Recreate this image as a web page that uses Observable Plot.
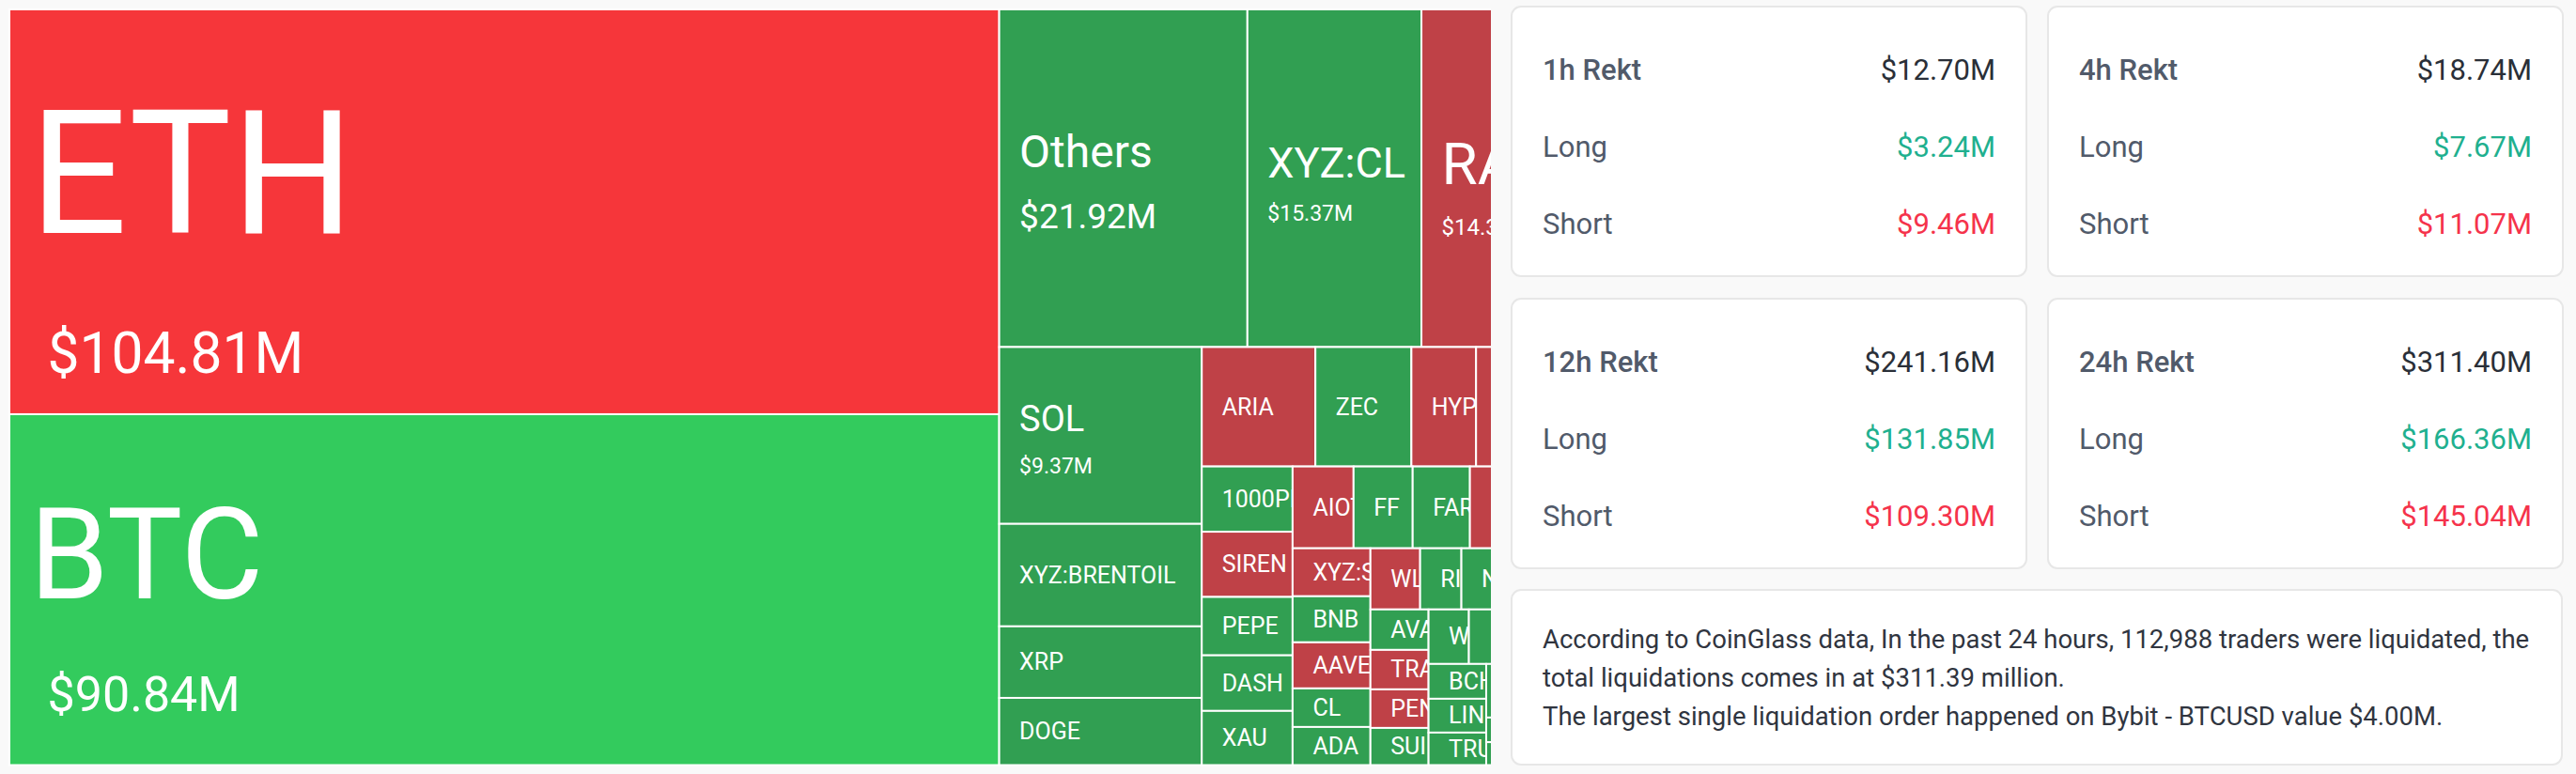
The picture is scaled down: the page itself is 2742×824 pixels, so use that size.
<!DOCTYPE html>
<html>
<head>
<meta charset="utf-8">
<script src="https://cdn.jsdelivr.net/npm/d3@7"></script>
<script src="https://cdn.jsdelivr.net/npm/@observablehq/plot@0.6"></script>
<style>
html,body{margin:0;padding:0;background:#f9f9f9;width:2742px;height:824px;overflow:hidden;font-family:Roboto,sans-serif}
#chart{position:absolute;left:0;top:0;width:1587px;height:824px;overflow:hidden}
#chart svg{background:transparent;display:block;max-width:none}
.card{position:absolute;box-sizing:border-box;background:#fff;border:2px solid #e7e7e7;border-radius:11px;padding:26px 32px 0 32px;width:550px;height:289px}
.row{display:flex;justify-content:space-between;line-height:82px;font-size:31px;color:#515a6a}
.row.head span:first-child{font-weight:500}
.row.head span:last-child{color:#2a2f38}
.long{color:#1fb08f}
.short{color:#f5334b}
.note{left:1608px;top:627px;width:1120px;height:188px;padding-top:31px;font-size:27.5px;line-height:41px;color:#30353f;white-space:nowrap}
</style>
</head>
<body>
<div id="chart"></div>
<div id="cards"></div>
<script>
const names = ["ETH","BTC","Others","XYZ:CL","RAVE","SOL","XYZ:BRENTOIL","XRP","DOGE","ARIA","ZEC","HYPE","","","1000PEPE","SIREN","PEPE","DASH","XAU","AIOT","FF","FARTCOIN","","","XYZ:SILVER","BNB","AAVE","CL","ADA","WLFI","RIVER","NEAR","","","AVAX","TRADOOR","PENGU","SUI","WIF","","","","BCH","LINK","TRUMP","","","","","",""];
const values = [104.81,90.84,21.92,15.37,14.35,9.37,5.43,3.79,3.56,3.55,3.0,2.02,1.8,1.57,1.55,1.55,1.387,1.32,1.287,1.305,1.265,1.225,1.22,1.22,.977,.938,.938,.785,.776,.795,.66,.66,.66,.64,.615,.60,.586,.565,.575,.57,.55,.52,.525,.51,.49,.46,.46,.45,.22,.205,.79];
const tones = ["shortMajor","longMajor","long","long","short","long","long","long","long","short","long","short","short","short","long","short","long","long","long","short","long","long","short","short","short","long","short","long","long","short","long","long","long","long","long","short","short","long","long","long","long","long","long","long","long","long","long","long","long","long","long"];
const stripSizes = [2,3,4,5,5,5,5,5,4,4,3,3,2,1];

const toneDomain = ["shortMajor","longMajor","short","long"];
const toneColors = ["#f6363a","#33cb5d","#bf4147","#319f52"];

const labelStyles = {
  ETH:{size:183,base:237,valueSize:60.5,valueBase:386,valueDx:40},
  BTC:{size:135,base:196,valueSize:52,valueBase:315.5,valueDx:40},
  Others:{size:48,base:167,valueSize:37,valueBase:232,valueDx:21},
  "XYZ:CL":{size:45,base:178,valueSize:23,valueBase:224,valueDx:21},
  RAVE:{size:62,base:185,valueSize:24,valueBase:239,valueDx:21},
  SOL:{size:38,base:89,valueSize:23,valueBase:134,valueDx:21}
};

const panelTitles = ["1h Rekt","4h Rekt","12h Rekt","24h Rekt"];
const panelTotals = ["$12.70M","$18.74M","$241.16M","$311.40M"];
const panelLongs = ["$3.24M","$7.67M","$131.85M","$166.36M"];
const panelShorts = ["$9.46M","$11.07M","$109.30M","$145.04M"];
const noteLines = [
  "According to CoinGlass data, In the past 24 hours, 112,988 traders were liquidated, the",
  "total liquidations comes in at $311.39 million.",
  "The largest single liquidation order happened on Bybit - BTCUSD value $4.00M."
];

// Squarified-style tiling with the strips.
function stripTile(parent, x0, y0, x1, y1) {
  let rest = parent.value, i = 0;
  for (const n of stripSizes) {
    const row = {children: parent.children.slice(i, i + n)};
    row.value = d3.sum(row.children, d => d.value);
    i += n;
    const dx = x1 - x0, dy = y1 - y0;
    if (i === n || dx >= dy) {
      const nx = x0 + dx * row.value / rest;
      d3.treemapSlice(row, x0, y0, nx, y1); x0 = nx;
    } else {
      const ny = y0 + dy * row.value / rest;
      d3.treemapDice(row, x0, y0, x1, ny); y0 = ny;
    }
    rest -= row.value;
  }
}

const leaves = names.map((name, i) => ({name, value: values[i], tone: tones[i]}));
const root = d3.hierarchy({children: leaves}).sum(d => d.value || 0);
d3.treemap().tile(stripTile).size([1676, 804.5]).round(false)(root);
const cells = root.leaves().map(n => ({...n.data, x1: n.x0 + 10, x2: n.x1 + 10, y1: n.y0 + 10, y2: n.y1 + 10}));

const money = v => `$${v.toFixed(2)}M`;

const marks = cells.flatMap(c => {
  const s = labelStyles[c.name];
  const out = [Plot.rect([c], {x1: "x1", x2: "x2", y1: "y1", y2: "y2", fill: "tone", stroke: "#fff", strokeWidth: 2})];
  if (c.name) {
    out.push(Plot.text([c], {
      x: d => d.x1 + 21,
      y: d => s ? d.y1 + s.base : (d.y1 + d.y2) / 2 + 8,
      text: "name", textAnchor: "start", lineAnchor: "bottom",
      fill: "#fff", fontSize: s ? s.size : 25, fontFamily: "Roboto"
    }));
  }
  if (s) {
    out.push(Plot.text([c], {
      x: d => d.x1 + s.valueDx,
      y: d => d.y1 + s.valueBase,
      text: d => money(d.value), textAnchor: "start", lineAnchor: "bottom",
      fill: "#fff", fontSize: s.valueSize, fontFamily: "Roboto"
    }));
  }
  return out;
});

const plot = Plot.plot({
  width: 1587, height: 824,
  marginTop: 0, marginRight: 0, marginBottom: 0, marginLeft: 0,
  x: {domain: [0, 1587], range: [0, 1587], axis: null},
  y: {domain: [0, 824], range: [0, 824], axis: null},
  color: {type: "ordinal", domain: toneDomain, range: toneColors},
  marks
});
document.getElementById("chart").append(plot);

const cardsEl = document.getElementById("cards");
const lefts = [1608, 2179, 1608, 2179], tops = [6, 6, 317, 317];
panelTitles.forEach((t, i) => {
  const card = document.createElement("div");
  card.className = "card";
  card.style.left = lefts[i] + "px";
  card.style.top = tops[i] + "px";
  card.innerHTML = `<div class="row head"><span>${t}</span><span>${panelTotals[i]}</span></div>
    <div class="row"><span>Long</span><span class="long">${panelLongs[i]}</span></div>
    <div class="row"><span>Short</span><span class="short">${panelShorts[i]}</span></div>`;
  cardsEl.append(card);
});
const note = document.createElement("div");
note.className = "card note";
note.innerHTML = noteLines.join("<br>");
cardsEl.append(note);
</script>
</body>
</html>
